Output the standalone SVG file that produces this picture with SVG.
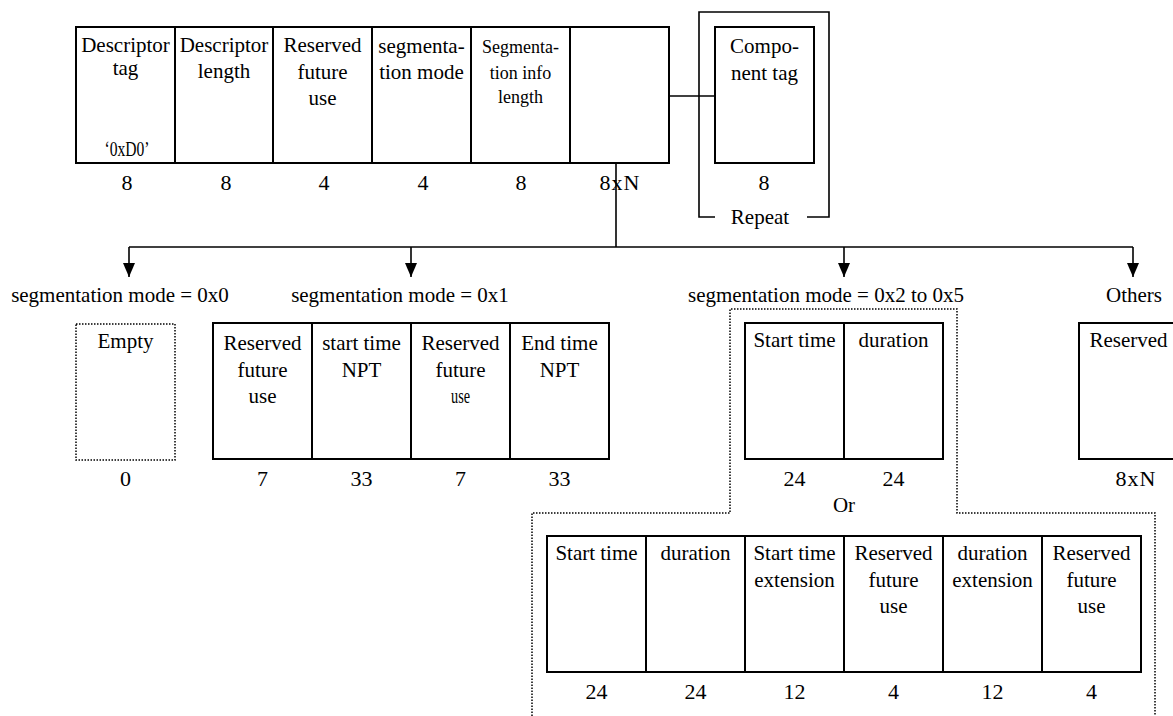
<svg xmlns="http://www.w3.org/2000/svg" width="1173" height="716" viewBox="0 0 1173 716">
<style>
text{font-family:"Liberation Serif","Times New Roman",serif;font-size:21px;fill:#000;text-anchor:middle}
.sm{font-size:18px}
.num{font-size:22px}
.box{fill:#fff;stroke:#000;stroke-width:2}
.div{stroke:#000;stroke-width:2}
.dot{fill:none;stroke:#000;stroke-width:1.5;stroke-dasharray:1.5 1.5}
.ln{fill:none;stroke:#000;stroke-width:1.6}
</style>
<defs>
<marker id="arr" viewBox="0 0 14 12" refX="14" refY="6" markerWidth="14" markerHeight="12" markerUnits="userSpaceOnUse" orient="auto">
<path d="M0,0 L14,6 L0,12 Z" fill="#000"/>
</marker>
</defs>

<g id="connectors">
<line class="ln" x1="669" y1="96" x2="715" y2="96"/>
<line class="ln" x1="616" y1="96" x2="616" y2="247"/>
<line class="ln" x1="129" y1="247" x2="1133" y2="247"/>
<line class="ln" x1="129" y1="247" x2="129" y2="277" marker-end="url(#arr)"/>
<line class="ln" x1="411" y1="247" x2="411" y2="277" marker-end="url(#arr)"/>
<line class="ln" x1="844" y1="247" x2="844" y2="277" marker-end="url(#arr)"/>
<line class="ln" x1="1133" y1="247" x2="1133" y2="277" marker-end="url(#arr)"/>
</g>

<g id="descriptor">
<rect class="box" x="76" y="27" width="593" height="136"/>
<line class="div" x1="175" y1="27" x2="175" y2="163"/>
<line class="div" x1="273" y1="27" x2="273" y2="163"/>
<line class="div" x1="372" y1="27" x2="372" y2="163"/>
<line class="div" x1="471" y1="27" x2="471" y2="163"/>
<line class="div" x1="570" y1="27" x2="570" y2="163"/>
<text x="125.5" y="52">Descriptor</text>
<text x="125.5" y="75">tag</text>
<text x="127" y="156" textLength="45" lengthAdjust="spacingAndGlyphs">‘0xD0’</text>
<text x="224" y="52">Descriptor</text>
<text x="224" y="78">length</text>
<text x="322.5" y="52">Reserved</text>
<text x="322.5" y="79">future</text>
<text x="322.5" y="105">use</text>
<text x="421.5" y="53">segmenta-</text>
<text x="421.5" y="79">tion mode</text>
<text class="sm" x="520.5" y="53">Segmenta-</text>
<text class="sm" x="520.5" y="79">tion info</text>
<text class="sm" x="520.5" y="103">length</text>
<text class="num" x="127" y="190">8</text>
<text class="num" x="226" y="190">8</text>
<text class="num" x="324" y="190">4</text>
<text class="num" x="423" y="190">4</text>
<text class="num" x="521" y="190">8</text>
<text class="num" x="620" y="190" letter-spacing="1">8xN</text>
</g>

<g id="component">
<polyline class="ln" points="715,217 699,217 699,12 829,12 829,217 807,217" stroke-width="2"/>
<rect class="box" x="715" y="27" width="99" height="136"/>
<text x="764.5" y="53">Compo-</text>
<text x="764.5" y="80">nent tag</text>
<text class="num" x="764" y="190">8</text>
<text x="760" y="224">Repeat</text>
</g>

<g id="mode0">
<text x="120" y="302">segmentation mode = 0x0</text>
<rect class="dot" x="76" y="324" width="99" height="136"/>
<text x="125.5" y="348">Empty</text>
<text class="num" x="125.5" y="486">0</text>
</g>

<g id="mode1">
<text x="400" y="302">segmentation mode = 0x1</text>
<rect class="box" x="213" y="323" width="396" height="136"/>
<line class="div" x1="312" y1="323" x2="312" y2="459"/>
<line class="div" x1="411" y1="323" x2="411" y2="459"/>
<line class="div" x1="510" y1="323" x2="510" y2="459"/>
<text x="262.5" y="350">Reserved</text>
<text x="262.5" y="377">future</text>
<text x="262.5" y="403">use</text>
<text x="361.5" y="350">start time</text>
<text x="361.5" y="377">NPT</text>
<text x="460.5" y="350">Reserved</text>
<text x="460.5" y="377">future</text>
<text x="460.5" y="403" textLength="19" lengthAdjust="spacingAndGlyphs">use</text>
<text x="559.5" y="350">End time</text>
<text x="559.5" y="377">NPT</text>
<text class="num" x="262.5" y="486">7</text>
<text class="num" x="361.5" y="486">33</text>
<text class="num" x="460.5" y="486">7</text>
<text class="num" x="559.5" y="486">33</text>
</g>

<g id="mode2to5">
<text x="826" y="302">segmentation mode = 0x2 to 0x5</text>
<polyline class="dot" points="532,716 532,513 730,513 730,309 957,309 957,513 1155,513 1155,716"/>
<rect class="box" x="745" y="323" width="198" height="136"/>
<line class="div" x1="844" y1="323" x2="844" y2="459"/>
<text x="794.5" y="347">Start time</text>
<text x="893.5" y="347">duration</text>
<text class="num" x="794.5" y="486">24</text>
<text class="num" x="893.5" y="486">24</text>
<text x="844" y="512">Or</text>
<rect class="box" x="547" y="536" width="594" height="136"/>
<line class="div" x1="646" y1="536" x2="646" y2="672"/>
<line class="div" x1="745" y1="536" x2="745" y2="672"/>
<line class="div" x1="844" y1="536" x2="844" y2="672"/>
<line class="div" x1="943" y1="536" x2="943" y2="672"/>
<line class="div" x1="1042" y1="536" x2="1042" y2="672"/>
<text x="596.5" y="560">Start time</text>
<text x="695.5" y="560">duration</text>
<text x="794.5" y="560">Start time</text>
<text x="794.5" y="587">extension</text>
<text x="893.5" y="560">Reserved</text>
<text x="893.5" y="587">future</text>
<text x="893.5" y="613">use</text>
<text x="992.5" y="560">duration</text>
<text x="992.5" y="587">extension</text>
<text x="1091.5" y="560">Reserved</text>
<text x="1091.5" y="587">future</text>
<text x="1091.5" y="613">use</text>
<text class="num" x="596.5" y="699">24</text>
<text class="num" x="695.5" y="699">24</text>
<text class="num" x="794.5" y="699">12</text>
<text class="num" x="893.5" y="699">4</text>
<text class="num" x="992.5" y="699">12</text>
<text class="num" x="1091.5" y="699">4</text>
</g>

<g id="others">
<text x="1134" y="302">Others</text>
<rect class="box" x="1079" y="323" width="99" height="136"/>
<text x="1128.5" y="347">Reserved</text>
<text class="num" x="1136" y="486" letter-spacing="1">8xN</text>
</g>
</svg>
